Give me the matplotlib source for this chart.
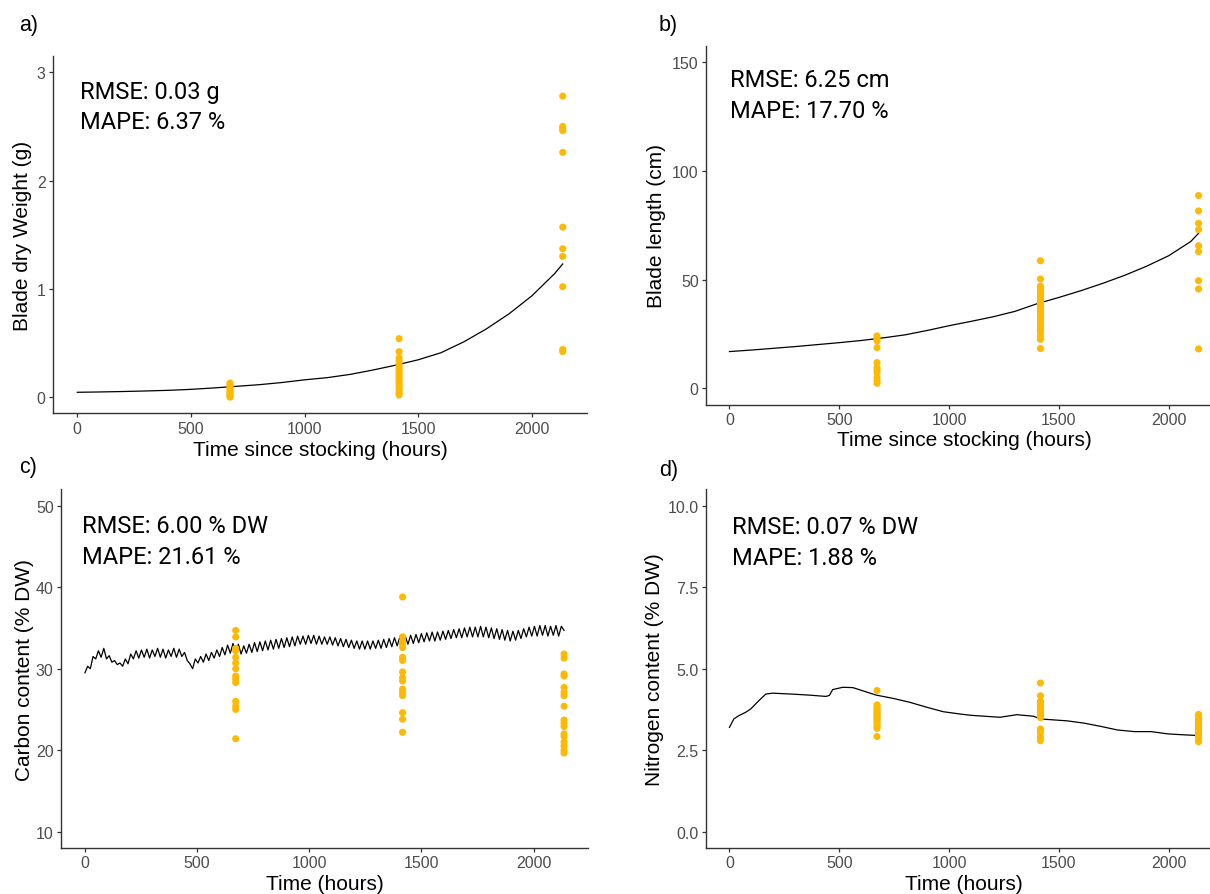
import numpy as np
import matplotlib
matplotlib.use("Agg")
import matplotlib.pyplot as plt

plt.rcParams['font.family'] = ['Liberation Sans', 'DejaVu Sans']

# observation times (hours since stocking)
obs_t = [672, 1416, 2136]

# a) blade dry weight (g)
a_line_t = [0, 100, 200, 300, 400, 500, 600, 700, 800, 900, 1000, 1100, 1200,
            1300, 1400, 1500, 1600, 1700, 1800, 1900, 2000, 2100, 2136]
a_line_v = [0.045, 0.048, 0.052, 0.057, 0.063, 0.072, 0.085, 0.10, 0.115, 0.135,
            0.16, 0.18, 0.21, 0.25, 0.295, 0.345, 0.41, 0.51, 0.63, 0.77, 0.935,
            1.14, 1.23]
a_obs = [
    [0.13, 0.11, 0.09, 0.07, 0.05, 0.04, 0.02, 0.01, 0.00],
    [0.54, 0.42, 0.36, 0.33, 0.30, 0.28, 0.26, 0.24, 0.22, 0.20, 0.18, 0.16,
     0.14, 0.12, 0.10, 0.08, 0.06, 0.04, 0.02],
    [2.78, 2.50, 2.48, 2.46, 2.26, 1.57, 1.37, 1.30, 1.02, 0.44, 0.42],
]

# b) blade length (cm)
b_line_t = a_line_t
b_line_v = [16.9, 17.6, 18.4, 19.2, 20.1, 21.0, 22.0, 23.2, 24.6, 26.6, 28.8,
            30.8, 32.9, 35.4, 38.9, 41.8, 44.9, 48.3, 52.0, 56.2, 61.0, 67.5, 71.3]
b_obs = [
    [24.1, 22.9, 21.8, 18.7, 11.8, 9.5, 8.4, 7.2, 4.9, 3.4, 2.3],
    [58.7, 50.3, 47, 46, 45, 44, 43, 42, 41, 40, 39, 38, 37, 36, 35, 34, 33,
     32, 31, 30, 29, 28, 27, 26, 24.1, 22.5, 18.3],
    [88.7, 81.6, 75.9, 73.0, 65.6, 62.9, 49.5, 45.7, 18.1],
]

# c) carbon content (% DW): daily minimum (at 0 h of each day) and maximum (at 12 h)
c_trough = [29.5, 30.0, 31.2, 31.4, 31.2, 30.8, 30.5, 30.3, 30.6, 31.2,
            31.3, 31.4, 31.3, 31.5, 31.4, 31.3, 31.5, 31.4, 31.5, 31.0,
            30.0, 30.7, 30.8, 31.0, 31.3, 31.5, 31.7, 31.9, 32.1, 31.8,
            31.9, 32.0, 32.1, 32.2, 32.3, 32.4, 32.5, 32.6, 32.7, 32.8,
            33.0, 33.0, 33.1, 33.0, 33.0, 33.0, 32.9, 32.8, 32.7, 32.6,
            32.5, 32.4, 32.4, 32.4, 32.5, 32.5, 32.6, 32.7, 32.8, 32.9,
            33.0, 33.1, 33.2, 33.3, 33.4, 33.4, 33.5, 33.6, 33.7, 33.8,
            33.8, 33.9, 33.9, 33.9, 33.9, 33.8, 33.7, 33.6, 33.5, 33.4,
            33.5, 33.7, 33.9, 34.0, 34.0, 34.1, 34.0, 34.1, 34.0, 34.7]
c_peak = [30.3, 31.5, 32.2, 32.5, 31.6, 31.0, 30.7, 31.2, 31.8, 32.2,
          32.3, 32.4, 32.3, 32.5, 32.4, 32.3, 32.5, 32.4, 32.0, 30.6,
          31.2, 31.5, 31.8, 32.0, 32.3, 32.6, 32.9, 33.1, 33.0, 32.8,
          33.0, 33.2, 33.3, 33.4, 33.5, 33.6, 33.7, 33.8, 33.9, 34.0,
          34.0, 34.1, 34.1, 34.0, 33.9, 33.9, 33.8, 33.7, 33.6, 33.5,
          33.4, 33.4, 33.4, 33.4, 33.5, 33.6, 33.7, 33.8, 33.9, 34.0,
          34.1, 34.2, 34.3, 34.4, 34.5, 34.5, 34.6, 34.7, 34.8, 34.9,
          35.0, 35.1, 35.1, 35.2, 35.1, 35.0, 34.9, 34.8, 34.7, 34.6,
          34.7, 34.9, 35.1, 35.2, 35.3, 35.3, 35.2, 35.3, 35.2]
c_obs = [
    [34.7, 33.9, 32.5, 32.2, 31.4, 30.7, 30.0, 29.1, 28.7, 28.3, 26.0, 25.4,
     25.0, 21.4],
    [38.8, 33.9, 33.4, 33.0, 32.6, 31.4, 31.0, 29.6, 28.9, 28.5, 27.5, 27.1,
     26.7, 24.6, 23.8, 22.2],
    [31.8, 31.3, 29.35, 29.1, 27.7, 27.1, 26.7, 25.4, 23.7, 23.3, 22.9, 22.0,
     21.7, 21.0, 20.5, 20.0, 19.65],
]

# d) nitrogen content (% DW)
d_line_t = [0, 20, 43, 73, 96, 134, 165, 196, 287, 363, 439, 455, 470, 516, 562,
            622, 668, 745, 821, 897, 974, 1050, 1100, 1232, 1309, 1386, 1413,
            1538, 1615, 1691, 1767, 1844, 1920, 1996, 2073, 2136]
d_line_v = [3.20, 3.46, 3.56, 3.66, 3.76, 4.02, 4.22, 4.25, 4.22, 4.19, 4.15,
            4.18, 4.36, 4.43, 4.42, 4.29, 4.19, 4.09, 3.97, 3.82, 3.68, 3.61,
            3.57, 3.51, 3.59, 3.54, 3.46, 3.40, 3.33, 3.23, 3.12, 3.07, 3.07,
            3.00, 2.97, 2.95]
d_obs = [
    [4.33, 3.89, 3.82, 3.76, 3.71, 3.66, 3.61, 3.56, 3.51, 3.46, 3.41, 3.35,
     3.30, 3.22, 3.17, 2.92],
    [4.56, 4.17, 4.0, 3.95, 3.90, 3.85, 3.80, 3.75, 3.70, 3.65, 3.60, 3.55,
     3.50, 3.15, 3.08, 3.03, 2.90, 2.79],
    [3.60, 3.55, 3.50, 3.45, 3.40, 3.35, 3.30, 3.25, 3.20, 3.15, 3.10, 3.05,
     3.00, 2.95, 2.90, 2.85, 2.80, 2.76],
]

# interleave daily min/max into one 12-hourly series
c_line_v = []
for i in range(len(c_trough)):
    c_line_v.append(c_trough[i])
    if i < len(c_peak):
        c_line_v.append(c_peak[i])
c_line_t = [12 * i for i in range(len(c_line_v))]

W, H = 1210, 895
fig = plt.figure(figsize=(W / 100, H / 100), dpi=100)


def px_axes(left, top, right, bottom):
    return fig.add_axes([left / W, 1 - bottom / H, (right - left) / W, (bottom - top) / H])


PT_COL = '#FFB900'
panels = [
    dict(box=(53, 57, 587, 414.4), t=a_line_t, v=a_line_v, obs=a_obs,
         ylim=(-0.15, 3.15), yt=[0, 1, 2, 3], ytl=['0', '1', '2', '3'],
         ylab='Blade dry Weight (g)', xlab='Time since stocking (hours)',
         txt=('RMSE: 0.03 g', 'MAPE: 6.37 %'), tx=0.051, ty=(0.882, 0.7975),
         ylx=-0.04, xly=-0.0745, tag='a)', tagxy=(19, 25)),
    dict(box=(706, 47, 1222, 405.6), t=b_line_t, v=b_line_v, obs=b_obs,
         ylim=(-7.5, 157.5), yt=[0, 50, 100, 150], ytl=['0', '50', '100', '150'],
         ylab='Blade length (cm)', xlab='Time since stocking (hours)',
         txt=('RMSE: 6.25 cm', 'MAPE: 17.70 %'), tx=0.047, ty=(0.888, 0.803),
         ylx=-0.077, xly=-0.071, tag='b)', tagxy=(659, 25)),
    dict(box=(61, 490.4, 588, 849), t=c_line_t, v=c_line_v, obs=c_obs,
         ylim=(8, 52), yt=[10, 20, 30, 40, 50], ytl=['10', '20', '30', '40', '50'],
         ylab='Carbon content (% DW)', xlab='Time (hours)',
         txt=('RMSE: 6.00 % DW', 'MAPE: 21.61 %'), tx=0.040, ty=(0.88, 0.794),
         ylx=-0.052, xly=-0.0725, tag='c)', tagxy=(19, 468)),
    dict(box=(706, 490.4, 1222, 849), t=d_line_t, v=d_line_v, obs=d_obs,
         ylim=(-0.5, 10.5), yt=[0, 2.5, 5, 7.5, 10],
         ytl=['0.0', '2.5', '5.0', '7.5', '10.0'],
         ylab='Nitrogen content (% DW)', xlab='Time (hours)',
         txt=('RMSE: 0.07 % DW', 'MAPE: 1.88 %'), tx=0.050, ty=(0.8775, 0.792),
         ylx=-0.081, xly=-0.0725, tag='d)', tagxy=(659, 471)),
]

for p in panels:
    ax = px_axes(*p['box'])
    ax.plot(p['t'], p['v'], color='black', lw=0.9, zorder=2)
    for t, vals in zip(obs_t, p['obs']):
        ax.scatter([t] * len(vals), vals, s=26, color=PT_COL, edgecolors='none', zorder=3)
    ax.set_xlim(-106.8, 2242.8)
    ax.set_ylim(*p['ylim'])
    ax.set_xticks([0, 500, 1000, 1500, 2000])
    ax.set_yticks(p['yt'])
    ax.set_yticklabels(p['ytl'])
    for s in ['top', 'right']:
        ax.spines[s].set_visible(False)
    for s in ['left', 'bottom']:
        ax.spines[s].set_color('#333333')
        ax.spines[s].set_linewidth(1.0)
    ax.tick_params(length=2.9, width=0.9, color='#333333', labelcolor='#4D4D4D',
                   labelsize=11.5, pad=2.4)
    ax.set_ylabel(p['ylab'], fontsize=15, color='black')
    ax.set_xlabel(p['xlab'], fontsize=15, color='black', va='top')
    ax.yaxis.set_label_coords(p['ylx'], 0.5)
    ax.xaxis.set_label_coords(0.5, p['xly'])
    for line, ty in zip(p['txt'], p['ty']):
        ax.text(p['tx'], ty, line, transform=ax.transAxes, fontsize=17,
                family=['Roboto', 'DejaVu Sans'], va='baseline', ha='left')
    fig.text(p['tagxy'][0] / W, 1 - p['tagxy'][1] / H, p['tag'], fontsize=15.5,
             ha='left', va='center')

fig.savefig('out.png', dpi=100)
